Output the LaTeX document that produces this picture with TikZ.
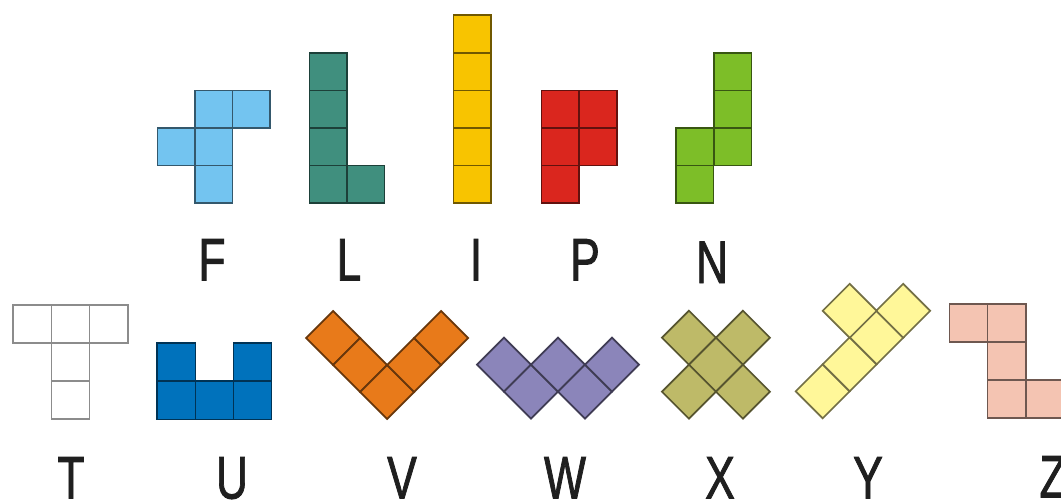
\documentclass[tikz,border=0pt]{standalone}
\usepackage{fontspec}
\setmainfont{Liberation Sans}
\newfontfamily\lblfont[FakeBold=1.6]{Liberation Sans}
\definecolor{cF}{HTML}{73C4F0}
\definecolor{cL}{HTML}{408F7E}
\definecolor{cI}{HTML}{F8C400}
\definecolor{cP}{HTML}{DA261E}
\definecolor{cN}{HTML}{7DBE28}
\definecolor{cT}{HTML}{8C8C8C}
\definecolor{cU}{HTML}{0072BC}
\definecolor{cV}{HTML}{E87A1A}
\definecolor{cW}{HTML}{8B85BA}
\definecolor{cX}{HTML}{BEBA68}
\definecolor{cY}{HTML}{FFF799}
\definecolor{cZ}{HTML}{F4C4B2}
\newcommand\sqcellA[2]{\path[piece] (#1,#2) rectangle ++(37.6,37.6);}
\newcommand\sqcellB[2]{\path[piece] (#1,#2) rectangle ++(38.1,38.1);}
\newcommand\dmcell[2]{\path[piece] (#1-27,#2) -- (#1,#2-27) -- (#1+27,#2) -- (#1,#2+27) -- cycle;}
\tikzset{
  piecestyle/.style={piece/.style={fill=#1, draw=#1!45!black, line width=1.7pt, line join=miter}},
  lbl/.style={font=\lblfont\fontsize{60}{60}\selectfont, text=black!88, anchor=base, inner sep=0pt, xscale=0.74}
}
\begin{document}
\begin{tikzpicture}[x=1pt,y=-1pt]
\useasboundingbox (0,0) rectangle (1061,500);
\fill[white] (0,0) rectangle (1061,500);
\begin{scope}
\clip (0,0) rectangle (1061,500);
% F
\begin{scope}[piecestyle=cF]
\sqcellA{195}{90.4}\sqcellA{232.6}{90.4}\sqcellA{157.4}{128}\sqcellA{195}{128}\sqcellA{195}{165.6}
\end{scope}
% L
\begin{scope}[piecestyle=cL]
\sqcellA{309.4}{52.8}\sqcellA{309.4}{90.4}\sqcellA{309.4}{128}\sqcellA{309.4}{165.6}\sqcellA{347}{165.6}
\end{scope}
% I
\begin{scope}[piecestyle=cI]
\sqcellA{453.5}{15.2}\sqcellA{453.5}{52.8}\sqcellA{453.5}{90.4}\sqcellA{453.5}{128}\sqcellA{453.5}{165.6}
\end{scope}
% P
\begin{scope}[piecestyle=cP]
\sqcellA{541.6}{90.4}\sqcellA{579.2}{90.4}\sqcellA{541.6}{128}\sqcellA{579.2}{128}\sqcellA{541.6}{165.6}
\end{scope}
% N
\begin{scope}[piecestyle=cN]
\sqcellA{714}{52.8}\sqcellA{714}{90.4}\sqcellA{714}{128}\sqcellA{676}{128}\sqcellA{676}{165.6}
\end{scope}
% T
\begin{scope}[piece/.style={fill=white, draw=cT, line width=1.8pt}]
\sqcellB{13.3}{305}\sqcellB{51.4}{305}\sqcellB{89.5}{305}\sqcellB{51.4}{343.1}\sqcellB{51.4}{381.2}
\end{scope}
% U
\begin{scope}[piecestyle=cU]
\sqcellB{157.3}{343.2}\sqcellB{233.5}{343.2}\sqcellB{157.3}{381.3}\sqcellB{195.4}{381.3}\sqcellB{233.5}{381.3}
\end{scope}
% Z
\begin{scope}[piecestyle=cZ]
\sqcellB{949.5}{304}\sqcellB{987.6}{304}\sqcellB{987.6}{342.1}\sqcellB{987.6}{380.2}\sqcellB{1025.7}{380.2}
\end{scope}
% V
\begin{scope}[piecestyle=cV]
\dmcell{333.1}{338}\dmcell{360.1}{365}\dmcell{387.1}{392}\dmcell{414.1}{365}\dmcell{441.1}{338}
\end{scope}
% W
\begin{scope}[piecestyle=cW]
\dmcell{504}{364.6}\dmcell{531}{391.6}\dmcell{558}{364.6}\dmcell{585}{391.6}\dmcell{612}{364.6}
\end{scope}
% X
\begin{scope}[piecestyle=cX]
\dmcell{688.9}{337.7}\dmcell{742.9}{337.7}\dmcell{715.9}{364.7}\dmcell{688.9}{391.7}\dmcell{742.9}{391.7}
\end{scope}
% Y
\begin{scope}[piecestyle=cY]
\dmcell{822.7}{391.3}\dmcell{849.7}{364.3}\dmcell{876.7}{337.3}\dmcell{903.2}{310.8}\dmcell{849.7}{310.8}
\end{scope}
% labels
\node[lbl] (lF) at (212,280.5) {F};
\node[lbl] (lL) at (349,280.5) {L};
\node[lbl] (lI) at (476,280.5) {I};
\node[lbl] (lP) at (585,280.5) {P};
\node[lbl] (lN) at (712,283) {N};
\node[lbl] (lT) at (71,498.5) {T};
\node[lbl] (lU) at (232,498.5) {U};
\node[lbl] (lV) at (402,498.5) {V};
\node[lbl] (lW) at (565,498.5) {W};
\node[lbl] (lX) at (720,498.5) {X};
\node[lbl] (lY) at (868,498.5) {Y};
\node[lbl] (lZ) at (1053,497.5) {Z};
\end{scope}
\end{tikzpicture}
\end{document}
